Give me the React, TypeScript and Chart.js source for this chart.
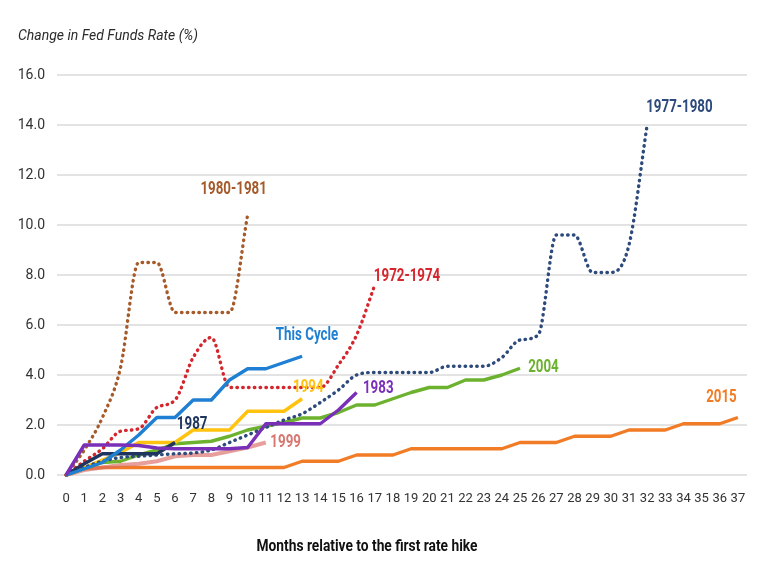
import React, { useEffect, useRef } from "react";
import { Chart, registerables } from "chart.js";

Chart.register(...registerables);

const months = [0, 1, 2, 3, 4, 5, 6, 7, 8, 9, 10, 11, 12, 13, 14, 15, 16, 17, 18, 19, 20, 21, 22, 23, 24, 25, 26, 27, 28, 29, 30, 31, 32, 33, 34, 35, 36, 37];
const yTicks = [0, 2, 4, 6, 8, 10, 12, 14, 16];

const thisCycle = [0, 0.25, 0.5, 1.0, 1.6, 2.3, 2.3, 3.0, 3.0, 3.8, 4.25, 4.25, 4.5, 4.75];
const c1980 = [0, 1.0, 2.3, 4.3, 8.5, 8.5, 6.5, 6.5, 6.5, 6.5, 10.4];
const c1972 = [0, 0.55, 1.05, 1.75, 1.85, 2.7, 3.0, 4.7, 5.5, 3.5, 3.5, 3.5, 3.5, 3.5, 3.5, 4.4, 5.6, 7.6];
const c1977 = [0, 0.3, 0.55, 0.7, 0.75, 0.8, 0.85, 0.88, 1.0, 1.3, 1.6, 1.9, 2.2, 2.45, 2.9, 3.4, 4.0, 4.1, 4.1, 4.1, 4.1, 4.35, 4.35, 4.35, 4.7, 5.4, 5.6, 9.6, 9.6, 8.1, 8.1, 9.2, 14.0];
const c1987 = [0, 0.45, 0.85, 0.85, 0.85, 0.85, 1.3];
const c1983 = [0, 1.2, 1.2, 1.2, 1.18, 1.08, 1.05, 1.05, 1.05, 1.05, 1.1, 2.05, 2.05, 2.05, 2.05, 2.6, 3.3];
const c1994 = [0, 0.3, 0.6, 0.9, 1.3, 1.3, 1.3, 1.8, 1.8, 1.8, 2.55, 2.55, 2.55, 3.05];
const c2004 = [0, 0.25, 0.5, 0.55, 0.8, 1.0, 1.25, 1.3, 1.35, 1.55, 1.8, 1.95, 2.1, 2.28, 2.28, 2.5, 2.8, 2.8, 3.05, 3.3, 3.5, 3.5, 3.8, 3.8, 4.0, 4.27];
const c2015 = [0, 0.25, 0.3, 0.3, 0.3, 0.3, 0.3, 0.3, 0.3, 0.3, 0.3, 0.3, 0.3, 0.55, 0.55, 0.55, 0.8, 0.8, 0.8, 1.05, 1.05, 1.05, 1.05, 1.05, 1.05, 1.3, 1.3, 1.3, 1.55, 1.55, 1.55, 1.8, 1.8, 1.8, 2.05, 2.05, 2.05, 2.3];
const c1999 = [0, 0.2, 0.3, 0.4, 0.45, 0.55, 0.75, 0.8, 0.8, 0.95, 1.1, 1.3];

const seriesNames = ["This Cycle", "1980-1981", "1972-1974", "1977-1980", "1987", "1983", "1994", "2004", "2015", "1999"];
const seriesColors = ["#1f7fd2", "#a65a2a", "#d4262d", "#2d4a7c", "#1f3560", "#7a2fb8", "#ffc20e", "#6cb22f", "#f27b25", "rgba(216,108,100,0.65)"];
const labelColors = ["#1f7fd2", "#a65a2a", "#d4262d", "#2d4a7c", "#1f3560", "#7a2fb8", "#ffc20e", "#6cb22f", "#f27b25", "#d77770"];
const seriesValues = [thisCycle, c1980, c1972, c1977, c1987, c1983, c1994, c2004, c2015, c1999];
const seriesDotted = [false, true, true, true, false, false, false, false, false, false];
const seriesOrder = [1, 3, 4, 5, 2, 0, 6, 7, 9, 8];

// label anchors (month of left edge, value of vertical centre)
const labelMonths = [11.55, 7.4, 16.95, 31.95, 6.1, 16.35, 12.5, 25.45, 35.25, 11.25];
const labelValues = [5.58, 11.42, 7.94, 14.7, 2.02, 3.48, 3.5, 4.3, 3.1, 1.3];

const chartTitle = "Change in Fed Funds Rate (%)";
const xTitle = "Months relative to the first rate hike";

function drawText(ctx: CanvasRenderingContext2D, text: string, x: number, y: number, font: string, color: string, sx: number, align: CanvasTextAlign) {
  ctx.save();
  ctx.translate(x, y);
  ctx.scale(sx, 1);
  ctx.font = font;
  ctx.fillStyle = color;
  ctx.textAlign = align;
  ctx.textBaseline = "middle";
  ctx.fillText(text, 0, 0);
  ctx.restore();
}

const textPlugin = {
  id: "texts",
  afterDatasetsDraw(chart: any) {
    const { ctx, scales } = chart;
    const x = scales.x;
    const y = scales.y;
    seriesNames.forEach((name, i) => {
      drawText(ctx, name, x.getPixelForValue(labelMonths[i]), y.getPixelForValue(labelValues[i]), "bold 18px Roboto", labelColors[i], 0.74, "left");
    });
    drawText(ctx, chartTitle, 18, 36, "italic 14px Roboto", "#2a2a2a", 1, "left");
    drawText(ctx, xTitle, 367, 547, "bold 16px Roboto", "#111111", 0.86, "center");
  },
};

export default function App() {
  const ref = useRef<HTMLCanvasElement | null>(null);
  useEffect(() => {
    if (!ref.current) return;
    const datasets = seriesNames.map((name, i) => ({
      label: name,
      data: seriesValues[i].map((v, k) => ({ x: months[k], y: v })),
      borderColor: seriesColors[i],
      backgroundColor: seriesColors[i],
      borderWidth: seriesDotted[i] ? 3.4 : i === 9 ? 4 : 3.4,
      borderDash: seriesDotted[i] ? [0.5, 5.3] : [],
      borderCapStyle: seriesDotted[i] ? "round" : "butt",
      borderJoinStyle: "round",
      cubicInterpolationMode: seriesDotted[i] ? "monotone" : "default",
      pointRadius: 0,
      fill: false,
      clip: false,
      order: seriesOrder[i],
    }));
    const chart = new Chart(ref.current, {
      type: "line",
      data: { datasets } as any,
      options: {
        responsive: false,
        animation: false,
        events: [],
        layout: { padding: { left: 0, right: 21, top: 75, bottom: 0 } },
        plugins: { legend: { display: false }, tooltip: { enabled: false }, title: { display: false } },
        scales: {
          x: {
            type: "linear",
            min: -0.5,
            max: 37.5,
            afterBuildTicks: (axis: any) => {
              axis.ticks = months.map((m) => ({ value: m }));
            },
            afterFit: (scale: any) => {
              scale.height = 101;
            },
            grid: { display: false, drawTicks: false },
            border: { display: false },
            ticks: {
              autoSkip: false,
              maxRotation: 0,
              padding: 16,
              color: "#333333",
              font: { family: "Roboto", size: 13 },
              callback: (v: any) => String(v),
            },
          },
          y: {
            type: "linear",
            min: 0,
            max: 16,
            afterBuildTicks: (axis: any) => {
              axis.ticks = yTicks.map((t) => ({ value: t }));
            },
            afterFit: (scale: any) => {
              scale.width = 57;
            },
            grid: { color: "#e3e3e3", lineWidth: 2, drawTicks: false },
            border: { display: false },
            ticks: {
              padding: 12,
              color: "#333333",
              font: { family: "Roboto", size: 14 },
              callback: (v: any) => Number(v).toFixed(1),
            },
          },
        },
      } as any,
      plugins: [textPlugin],
    });
    return () => chart.destroy();
  }, []);
  return (
    <div style={{ position: "absolute", left: 0, top: 0, width: 768, height: 576, background: "#ffffff" }}>
      <canvas ref={ref} width={768} height={576} />
    </div>
  );
}
